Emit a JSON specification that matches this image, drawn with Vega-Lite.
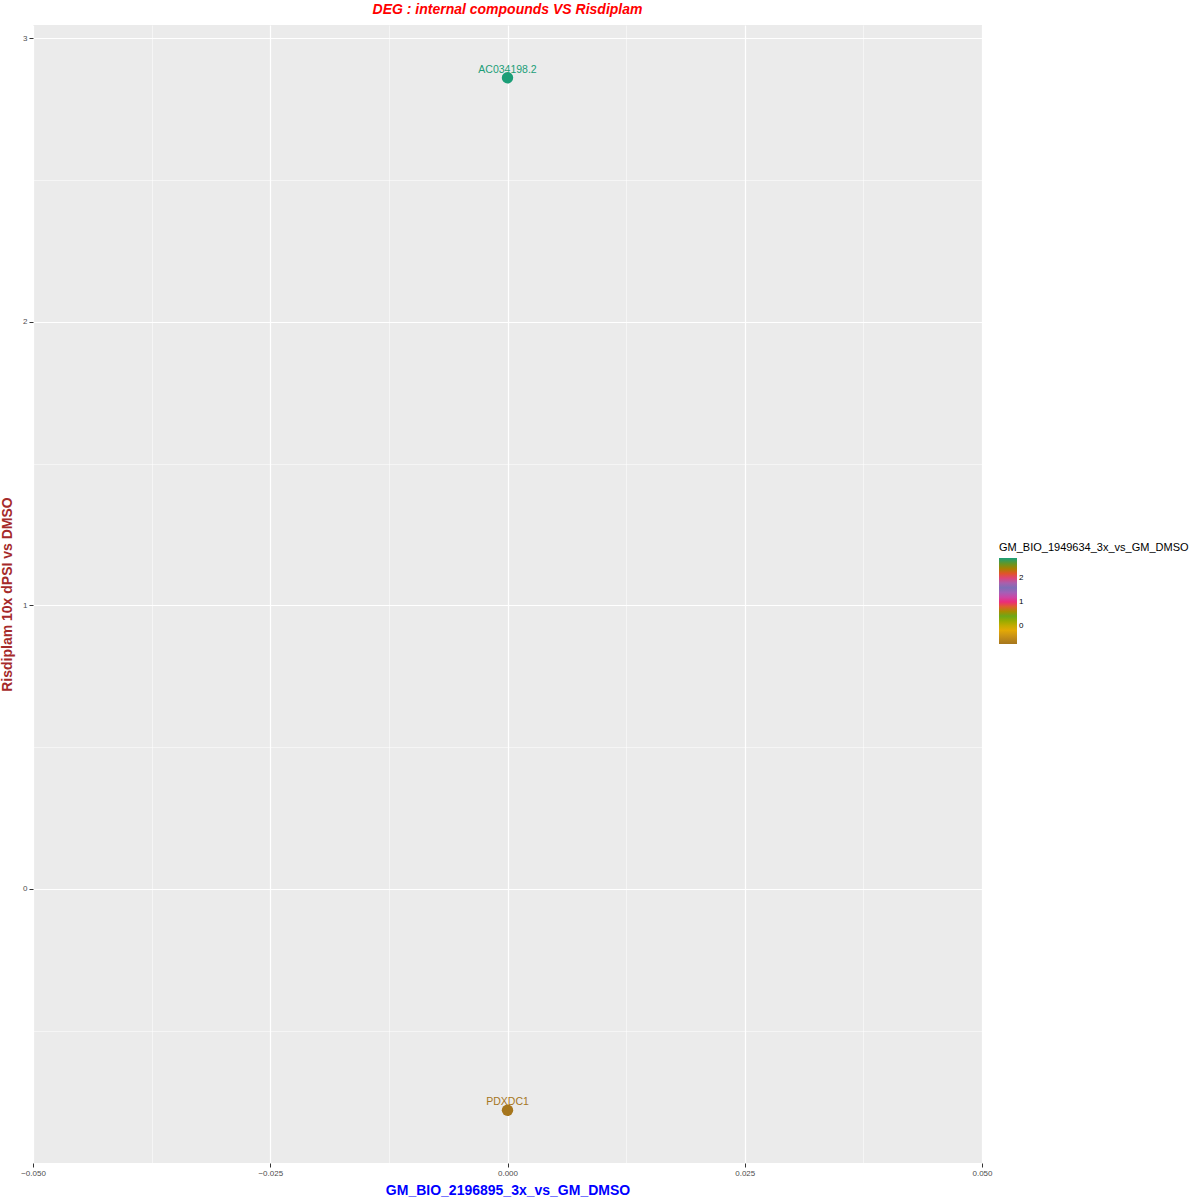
{
  "$schema": "https://vega.github.io/schema/vega-lite/v6.json",
  "autosize": "none",
  "width": 949,
  "height": 1138,
  "padding": {"left": 33, "top": 25, "right": 218, "bottom": 37},
  "background": "white",
  "title": {"text": "DEG : internal compounds VS Risdiplam", "color": "red", "fontSize": 14, "fontStyle": "italic", "fontWeight": "bold", "font": "Liberation Sans", "offset": 8},
  "data": {"values": [
    {"gene": "AC034198.2", "x": 0, "y": 2.86, "c": 2.86},
    {"gene": "PDXDC1", "x": 0, "y": -0.78, "c": -0.78}
  ]},
  "encoding": {
    "x": {"field": "x", "type": "quantitative", "scale": {"domain": [-0.05, 0.05], "nice": false, "zero": false},
      "axis": {"title": "GM_BIO_2196895_3x_vs_GM_DMSO", "titleColor": "blue", "titleFontSize": 14, "titleFontWeight": "bold", "titleFont": "Liberation Sans", "titlePadding": 6,
        "values": [-0.05, -0.0375, -0.025, -0.0125, 0, 0.0125, 0.025, 0.0375, 0.05],
        "labelExpr": "abs(datum.value*1000) % 25 < 0.01 ? format(datum.value, '.3f') : ''",
        "labelFlush": false,
        "gridWidth": {"condition": {"test": "abs(datum.value*1000) % 25 < 0.01", "value": 1.2}, "value": 0.5},
        "tickSize": {"condition": {"test": "abs(datum.value*1000) % 25 < 0.01", "value": 4}, "value": 0},
        "labelFontSize": 8, "labelColor": "#4d4d4d", "tickColor": "#333", "domain": false, "gridColor": "white"}},
    "y": {"field": "y", "type": "quantitative", "scale": {"domain": [-0.966, 3.046], "nice": false, "zero": false},
      "axis": {"title": "Risdiplam 10x dPSI vs DMSO", "titleColor": "#A52A2A", "titleFontSize": 14, "titleFontWeight": "bold", "titleFont": "Liberation Sans", "titlePadding": 8,
        "values": [-0.5, 0, 0.5, 1, 1.5, 2, 2.5, 3],
        "labelExpr": "datum.value % 1 == 0 ? format(datum.value, 'd') : ''",
        "gridWidth": {"condition": {"test": "datum.value % 1 == 0", "value": 1.2}, "value": 0.5},
        "tickSize": {"condition": {"test": "datum.value % 1 == 0", "value": 4}, "value": 0},
        "labelFontSize": 8, "labelColor": "#4d4d4d", "tickColor": "#333", "domain": false, "gridColor": "white"}},
    "color": {"field": "c", "type": "quantitative",
      "scale": {"domain": [-0.78, 2.86], "range": ["#A6761D", "#E6AB02", "#66A61E", "#E7298A", "#7570B3", "#D95F02", "#1B9E77"]},
      "legend": {"title": "GM_BIO_1949634_3x_vs_GM_DMSO", "titleLimit": 300, "titleFontWeight": "normal", "titleFontSize": 11, "titleColor": "black", "gradientLength": 86, "gradientThickness": 18, "labelFontSize": 8, "values": [0, 1, 2], "gradientStrokeWidth": 0,
        "orient": "none", "legendX": 966, "legendY": 517}}
  },
  "layer": [
    {"mark": {"type": "circle", "size": 130, "opacity": 1}},
    {"mark": {"type": "text", "dy": -8, "fontSize": 10.5, "font": "Liberation Sans"}, "encoding": {"text": {"field": "gene"}}}
  ],
  "config": {"view": {"fill": "#EBEBEB", "stroke": null}}
}
